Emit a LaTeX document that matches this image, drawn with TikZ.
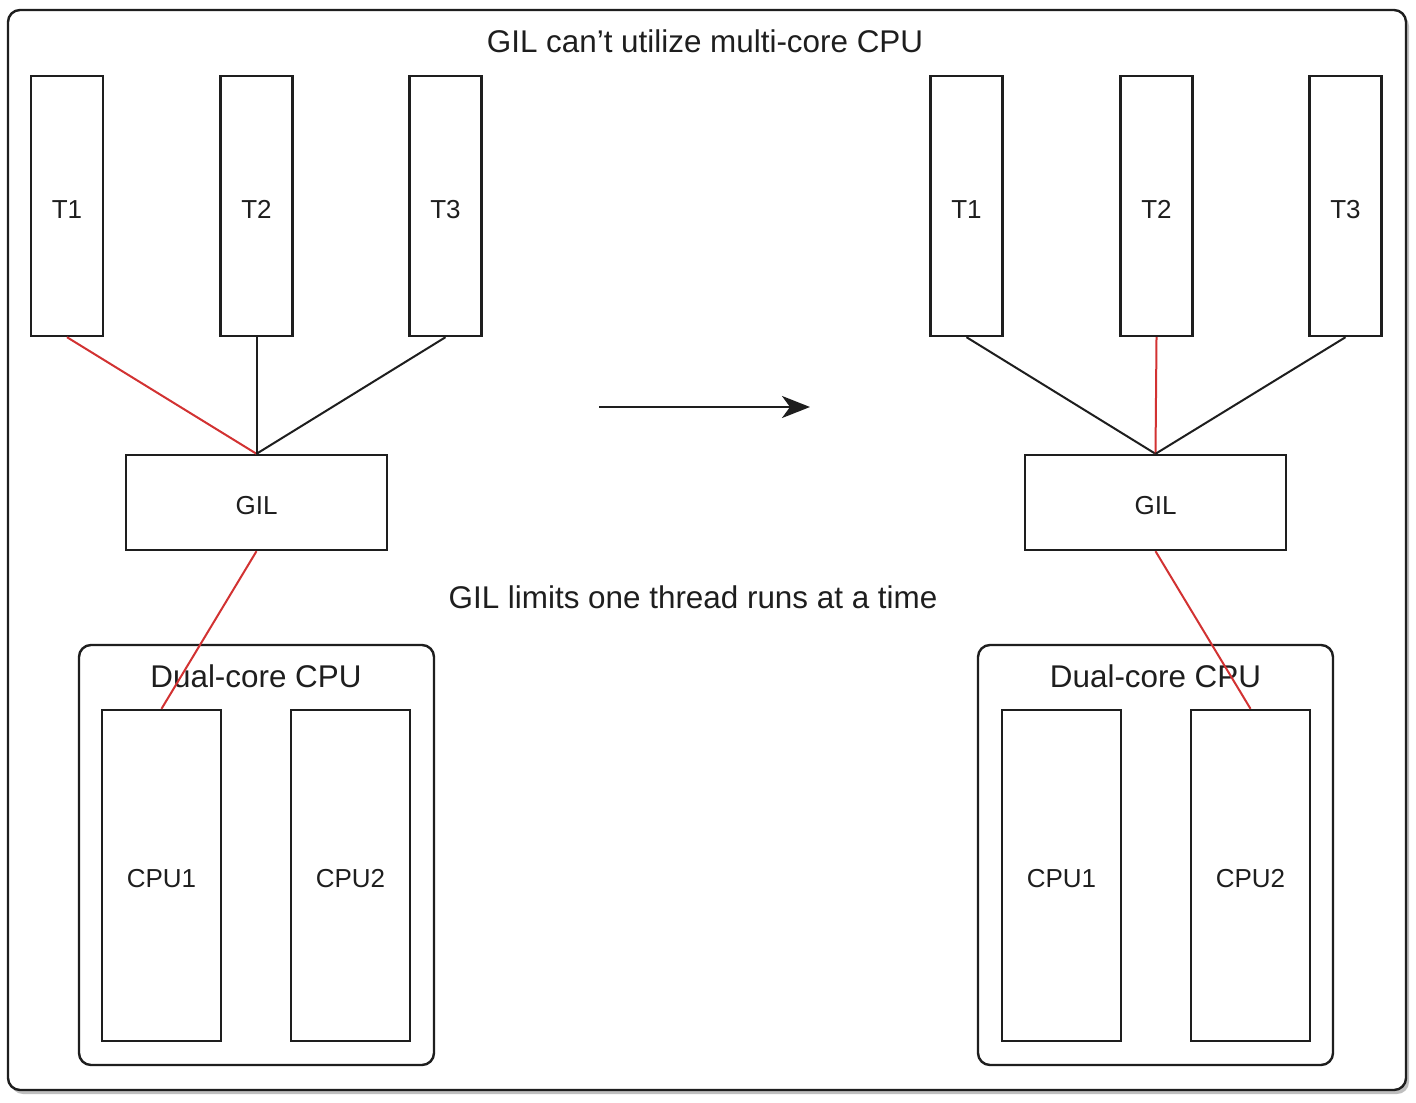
\documentclass[tikz,border=0pt]{standalone}
\usepackage{fontspec}
\setmainfont{Liberation Sans}
\usetikzlibrary{arrows.meta,shadows}
\definecolor{linered}{RGB}{210,50,50}
\definecolor{ink}{RGB}{30,30,30}
\begin{document}
\begin{tikzpicture}[x=0.5pt,y=-0.5pt,
  box/.style={draw=ink,line width=1.2pt,fill=white,inner sep=0pt,
    font=\fontsize{13pt}{15pt}\selectfont,text=ink,text height=12pt,text depth=0pt},
  thr/.style={box,minimum width=36pt,minimum height=130pt},
  gil/.style={box,minimum width=130.5pt,minimum height=47.5pt},
  core/.style={box,minimum width=59.5pt,minimum height=165.5pt},
  chip/.style={draw=ink,line width=1.2pt,rounded corners=6pt,inner sep=0pt,
    minimum width=177.5pt,minimum height=210pt},
  big/.style={font=\fontsize{15.7pt}{18pt}\selectfont,text=ink,inner sep=0pt},
  redline/.style={draw=linered,line width=1pt},
  blkline/.style={draw=ink,line width=1pt}]
\useasboundingbox (0,0) rectangle (1416,1102);
\fill[black!25,rounded corners=6pt] (11,14) rectangle (1409,1094);
\draw[ink,line width=1.2pt,fill=white,rounded corners=6pt] (8,10) rectangle (1406,1090);
\node[big] (title) at (705,41) {GIL can’t utilize multi-core CPU};
\node[big] (note) at (693,597) {GIL limits one thread runs at a time};
% left
\node[thr] (lt1) at (67,206) {T1};
\node[thr] (lt2) at (256.5,206) {T2};
\node[thr] (lt3) at (445.5,206) {T3};
\node[gil] (lgil) at (256.5,502.5) {GIL};
\node[chip] (lchip) at (256.5,855) {};
\node[big] (lchiplbl) at (256,676) {Dual-core CPU};
\node[core] (lc1) at (161.5,875.5) {CPU1};
\node[core] (lc2) at (350.5,875.5) {CPU2};
% right
\node[thr] (rt1) at (966.5,206) {T1};
\node[thr] (rt2) at (1156.5,206) {T2};
\node[thr] (rt3) at (1345.5,206) {T3};
\node[gil] (rgil) at (1155.5,502.5) {GIL};
\node[chip] (rchip) at (1155.5,855) {};
\node[big] (rchiplbl) at (1155.5,676) {Dual-core CPU};
\node[core] (rc1) at (1061.5,875.5) {CPU1};
\node[core] (rc2) at (1250.5,875.5) {CPU2};
% connectors
\draw[redline] (lt1.south) -- (lgil.north);
\draw[blkline] (lt2.south) -- (lgil.north);
\draw[blkline] (lt3.south) -- (lgil.north);
\draw[redline] (lgil.south) -- (lc1.north);
\draw[blkline] (rt1.south) -- (rgil.north);
\draw[redline] (rt2.south) -- (rgil.north);
\draw[blkline] (rt3.south) -- (rgil.north);
\draw[redline] (rgil.south) -- (rc2.north);
\coordinate (as) at (599,407);
\coordinate (ae) at (810,407);
\draw[ink,line width=1.3pt,-{Stealth[length=14pt,width=11pt,inset=4pt]}] (as) -- (ae);
\end{tikzpicture}
\end{document}
